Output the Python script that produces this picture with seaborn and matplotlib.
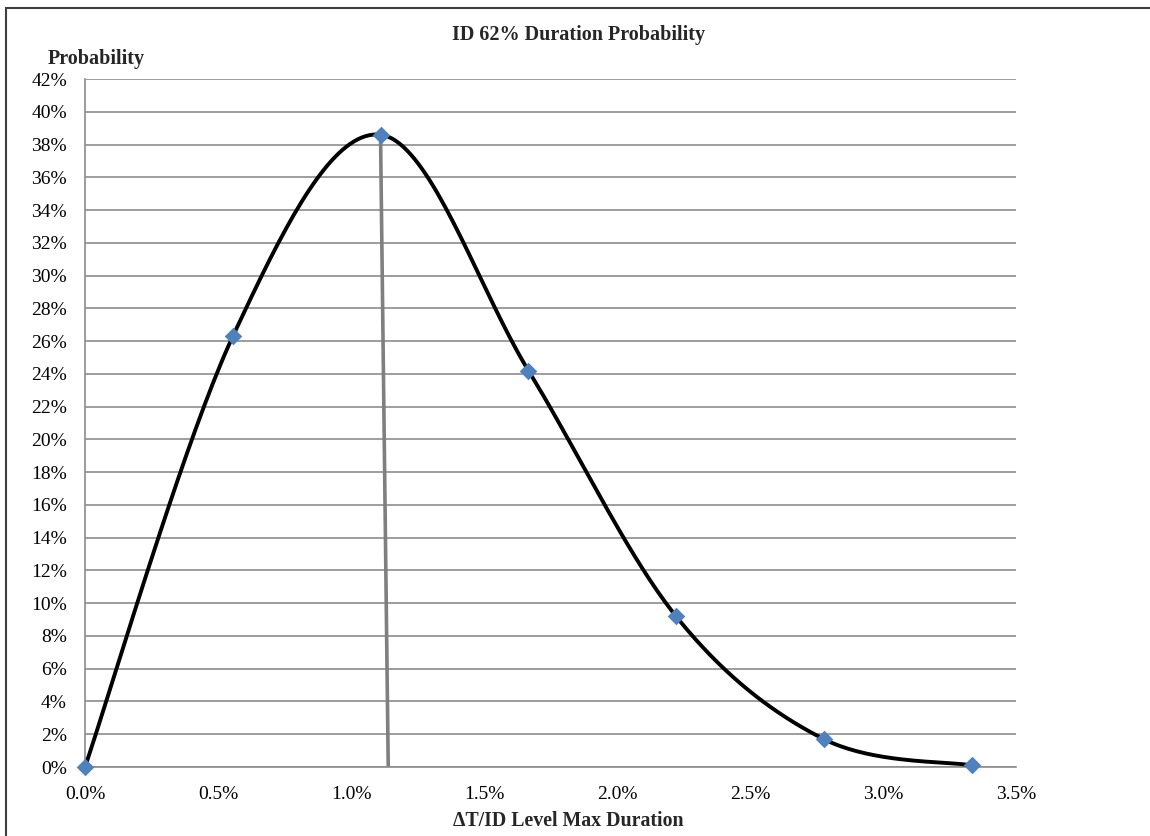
import numpy as np
import pandas as pd
import matplotlib
matplotlib.use("Agg")
import matplotlib.pyplot as plt
import seaborn as sns
from matplotlib.ticker import FuncFormatter, MultipleLocator
from matplotlib.patches import Rectangle

# ---- data ----
duration = [0.0, 0.556, 1.111, 1.667, 2.222, 2.778, 3.333]      # % of ID level
probability = [0.0, 26.3, 38.6, 24.2, 9.2, 1.7, 0.1]            # %
marker_x = [1.111, 1.14]
marker_y = [38.6, 0.0]
title = "ID 62% Duration Probability"
ylabel = "Probability"
xlabel = "\u0394T/ID Level Max Duration"

sns.set_theme(style="white")
plt.rcParams['font.family'] = ['Liberation Serif', 'DejaVu Serif']

W, H = 1150, 836
fig = plt.figure(figsize=(W / 100, H / 100), dpi=100)
L, R, T, B = 85, 1016, 79, 767
ax = fig.add_axes([L / W, 1 - B / H, (R - L) / W, (B - T) / H])

# Excel-like smoothed curve (Bezier through the data points)
x = np.array(duration)
y = np.array(probability)
n = len(x)
sx, sy = [], []
t = np.linspace(0, 1, 40)
for i in range(n - 1):
    p0 = np.array([x[i], y[i]])
    p3 = np.array([x[i + 1], y[i + 1]])
    pm = np.array([x[i - 1], y[i - 1]]) if i > 0 else p0
    pp = np.array([x[i + 2], y[i + 2]]) if i + 2 < n else p3
    c1 = p0 + (p3 - pm) / 6
    c2 = p3 - (pp - p0) / 6
    pts = ((1 - t) ** 3)[:, None] * p0 + (3 * (1 - t) ** 2 * t)[:, None] * c1 \
        + (3 * (1 - t) * t ** 2)[:, None] * c2 + (t ** 3)[:, None] * p3
    sx.extend(pts[:, 0]); sy.extend(pts[:, 1])
curve = pd.DataFrame({"x": sx, "y": sy})

sns.lineplot(data=curve, x="x", y="y", sort=False, color="black", lw=2.8, ax=ax, zorder=3)
sns.lineplot(x=marker_x, y=marker_y, sort=False, color="#7f7f7f", lw=2.6, ax=ax, zorder=2)
sns.scatterplot(x=duration, y=probability, marker="D", s=80, color="#4F81BD",
                edgecolor="#4F81BD", linewidth=0, ax=ax, zorder=4, clip_on=False)

ax.set_xlim(0, 3.5)
ax.set_ylim(0, 42)
ax.xaxis.set_major_locator(MultipleLocator(0.5))
ax.yaxis.set_major_locator(MultipleLocator(2))
ax.xaxis.set_major_formatter(FuncFormatter(lambda v, p: f"{v:.1f}%"))
ax.yaxis.set_major_formatter(FuncFormatter(lambda v, p: f"{v:.0f}%"))
ax.grid(axis="y", color="#8c8c8c", lw=1.2)
ax.grid(axis="x", visible=False)
for s in ["top", "right"]:
    ax.spines[s].set_visible(False)
for s in ["left", "bottom"]:
    ax.spines[s].set_color("#8c8c8c")
    ax.spines[s].set_linewidth(1.2)
ax.tick_params(axis="both", which="major", direction="out", length=5, width=1.2,
               color="#8c8c8c", labelsize=14, labelcolor="black")
ax.tick_params(axis="x", pad=9)
ax.tick_params(axis="y", pad=8)
ax.set_xlabel("")
ax.set_ylabel("")

fig.text(579 / W, 1 - 35 / H, title, ha="center", va="center",
         fontsize=14.5, fontweight="bold")
fig.text(96 / W, 1 - 59 / H, ylabel, ha="center", va="center",
         fontsize=14.5, fontweight="bold")
fig.text(568 / W, 1 - 821 / H, xlabel, ha="center", va="center",
         fontsize=14.3, fontweight="bold")

fig.patches.append(Rectangle((5.5 / W, -10 / H), (W + 10) / W, (H + 2) / H,
                             transform=fig.transFigure, fill=False,
                             edgecolor="#404040", lw=1.5))

fig.savefig("out.png", dpi=100)
